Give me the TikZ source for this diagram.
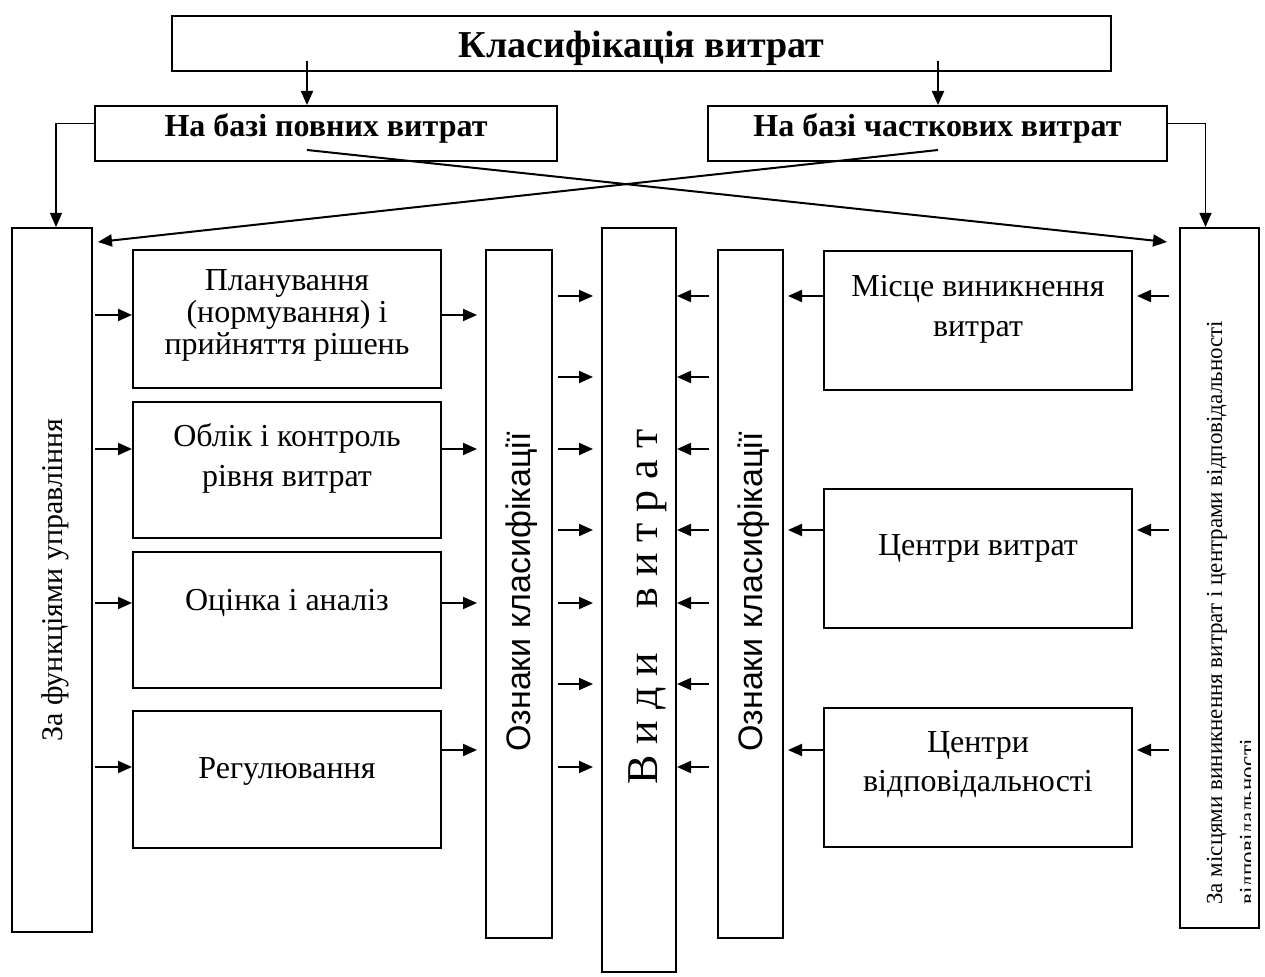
\documentclass[tikz,border=0pt]{standalone}
\usepackage{fontspec}
\setmainfont{Liberation Serif}
\newfontfamily\oznfont{Liberation Sans}
\usetikzlibrary{arrows.meta}

\tikzset{
	box/.style={shape=rectangle, draw, line width=1pt, inner sep=0pt},
	txt/.style={anchor=center, align=center, inner sep=0pt, font=\fontsize{16}{16}\selectfont},
	arr/.style={line width=1pt, -{Triangle[length=7pt, width=6pt]}},
	link/.style={line width=0.6pt, -{Triangle[length=7pt, width=6pt]}}
}

\begin{document}
\begin{tikzpicture}[x=0.5pt, y=-0.5pt]
	\useasboundingbox (0,0) rectangle (1265,977);
	% Rows of the arrows:
	\coordinate (r1) at (0,296);
	\coordinate (r2) at (0,377);
	\coordinate (r3) at (0,449);
	\coordinate (r4) at (0,530);
	\coordinate (r5) at (0,603);
	\coordinate (r6) at (0,684);
	\coordinate (r7) at (0,767);
	\coordinate (rA) at (0,315);
	\coordinate (rR) at (0,750);
	% Header boxes:
	\node[box, minimum width=469.5pt, minimum height=27.5pt] (klas) at (641.5,43.5){} node[txt, anchor=base, font=\fontsize{19}{22}\bfseries\selectfont] (klasT) at (641.5,58){Класифікація витрат};
	\node[box, minimum width=231pt, minimum height=27.5pt] (povni) at (326,133.5){} node[txt, anchor=base, font=\fontsize{16}{18}\bfseries\selectfont] (povniT) at (326,137){На базі повних витрат};
	\node[box, minimum width=229.5pt, minimum height=27.5pt] (chastk) at (937.5,133.5){} node[txt, anchor=base, font=\fontsize{16}{18}\bfseries\selectfont] (chastkT) at (937.5,137){На базі часткових витрат};
	\coordinate (povniC) at (307,150);
	\coordinate (chastkC) at (938,150);
	% Left part:
	\node[box, minimum width=40pt, minimum height=352pt] (funk) at (52,580){} node[txt, rotate=90, anchor=base, font=\fontsize{15}{17}\selectfont] (funkT) at (62,580){За функціями управління};
	\node[box, minimum width=154pt, minimum height=69pt] (plan) at (287,319){} node[txt] (planT) at (287,315){Планування\\(нормування) і\\прийняття рішень};
	\node[box, minimum width=154pt, minimum height=68pt] (oblik) at (287,470){} node[txt, font=\fontsize{16}{20}\selectfont] (oblikT) at (287,458){Облік і контроль\\рівня витрат};
	\node[box, minimum width=154pt, minimum height=68pt] (ocinka) at (287,620){} node[txt, anchor=base] (ocinkaT) at (287,611){Оцінка і аналіз};
	\node[box, minimum width=154pt, minimum height=68.5pt] (regul) at (287,779.5){} node[txt, anchor=base] (regulT) at (287,779){Регулювання};
	\node[box, minimum width=33pt, minimum height=344pt] (oznL) at (519,594){} node[txt, rotate=90, anchor=base, font=\oznfont\fontsize{17}{20}\selectfont] (oznLT) at (530,592){Ознаки класифікації};
	% Middle:
	\node[box, minimum width=37pt, minimum height=372pt] (vydy) at (639,600){} node[txt, rotate=90, anchor=base, font=\fontsize{22}{26}\selectfont] (vydyT) at (657,607){В и д и \ \ \ в и т р а т};
	% Right part:
	\node[box, minimum width=32.5pt, minimum height=344pt] (oznR) at (750.5,594){} node[txt, rotate=90, anchor=base, font=\oznfont\fontsize{17}{20}\selectfont] (oznRT) at (762,592){Ознаки класифікації};
	\node[box, minimum width=154pt, minimum height=69.5pt] (misce) at (978,320.5){} node[txt, font=\fontsize{16}{20}\selectfont] (misceT) at (978,309){Місце виникнення\\витрат};
	\node[box, minimum width=154pt, minimum height=69.5pt] (cvytr) at (978,558.5){} node[txt, anchor=base] (cvytrT) at (978,556){Центри витрат};
	\node[box, minimum width=154pt, minimum height=69.5pt] (cvidp) at (978,777.5){} node[txt, font=\fontsize{16}{19.5}\selectfont] (cvidpT) at (978,764.5){Центри\\відповідальності};
	\node[box, minimum width=39.5pt, minimum height=350pt] (mists) at (1219.5,578){};
	\begin{scope}
		\clip (mists.south west) rectangle ([xshift=-5pt]mists.north east);
		\node[txt, rotate=90, anchor=base west, font=\fontsize{11.5}{13}\selectfont] (mistsA) at (1222,905){За місцями виникнення витрат і центрами відповідальності};
		\node[txt, rotate=90, anchor=base west, font=\fontsize{11.5}{13}\selectfont] (mistsB) at (1255,905){відповідальності};
	\end{scope}
	% Arrows from the top:
	\draw[arr] ([yshift=5.5pt]klas.south -| povniC) -- (povni.north -| povniC);
	\draw[arr] ([yshift=5.5pt]klas.south -| chastkC) -- (chastk.north -| chastkC);
	\draw[link] ([yshift=5pt]povni.west) -| ([xshift=2pt]funk.north);
	\draw[link] ([yshift=5pt]chastk.east) -| ([xshift=-7pt]mists.north);
	\draw[arr] (povniC) -- ([xshift=-6pt, yshift=-7.5pt]mists.north west);
	\draw[arr] (chastkC) -- ([xshift=2.5pt, yshift=-7.5pt]funk.north east);
	% Left arrows:
	\draw[arr] ([xshift=1pt]funk.east |- rA) -- (plan.west |- rA);
	\draw[arr] ([xshift=1pt]funk.east |- r3) -- (oblik.west |- r3);
	\draw[arr] ([xshift=1pt]funk.east |- r5) -- (ocinka.west |- r5);
	\draw[arr] ([xshift=1pt]funk.east |- r7) -- (regul.west |- r7);
	\draw[arr] (plan.east |- rA) -- ([xshift=-4pt]oznL.west |- rA);
	\draw[arr] (oblik.east |- r3) -- ([xshift=-4pt]oznL.west |- r3);
	\draw[arr] (ocinka.east |- r5) -- ([xshift=-4pt]oznL.west |- r5);
	\draw[arr] (regul.east |- rR) -- ([xshift=-4pt]oznL.west |- rR);
	% Arrows into the middle:
	\draw[arr] ([xshift=2.5pt]oznL.east |- r1) -- ([xshift=-4pt]vydy.west |- r1);
	\draw[arr] ([xshift=2.5pt]oznL.east |- r2) -- ([xshift=-4pt]vydy.west |- r2);
	\draw[arr] ([xshift=2.5pt]oznL.east |- r3) -- ([xshift=-4pt]vydy.west |- r3);
	\draw[arr] ([xshift=2.5pt]oznL.east |- r4) -- ([xshift=-4pt]vydy.west |- r4);
	\draw[arr] ([xshift=2.5pt]oznL.east |- r5) -- ([xshift=-4pt]vydy.west |- r5);
	\draw[arr] ([xshift=2.5pt]oznL.east |- r6) -- ([xshift=-4pt]vydy.west |- r6);
	\draw[arr] ([xshift=2.5pt]oznL.east |- r7) -- ([xshift=-4pt]vydy.west |- r7);
	\draw[arr] ([xshift=-4pt]oznR.west |- r1) -- (vydy.east |- r1);
	\draw[arr] ([xshift=-4pt]oznR.west |- r2) -- (vydy.east |- r2);
	\draw[arr] ([xshift=-4pt]oznR.west |- r3) -- (vydy.east |- r3);
	\draw[arr] ([xshift=-4pt]oznR.west |- r4) -- (vydy.east |- r4);
	\draw[arr] ([xshift=-4pt]oznR.west |- r5) -- (vydy.east |- r5);
	\draw[arr] ([xshift=-4pt]oznR.west |- r6) -- (vydy.east |- r6);
	\draw[arr] ([xshift=-4pt]oznR.west |- r7) -- (vydy.east |- r7);
	% Right arrows:
	\draw[arr] (misce.west |- r1) -- ([xshift=2pt]oznR.east |- r1);
	\draw[arr] (cvytr.west |- r4) -- ([xshift=2pt]oznR.east |- r4);
	\draw[arr] (cvidp.west |- rR) -- ([xshift=2pt]oznR.east |- rR);
	\draw[arr] ([xshift=-5pt]mists.west |- r1) -- ([xshift=2pt]misce.east |- r1);
	\draw[arr] ([xshift=-5pt]mists.west |- r4) -- ([xshift=2pt]cvytr.east |- r4);
	\draw[arr] ([xshift=-5pt]mists.west |- rR) -- ([xshift=2pt]cvidp.east |- rR);
\end{tikzpicture}
\end{document}
